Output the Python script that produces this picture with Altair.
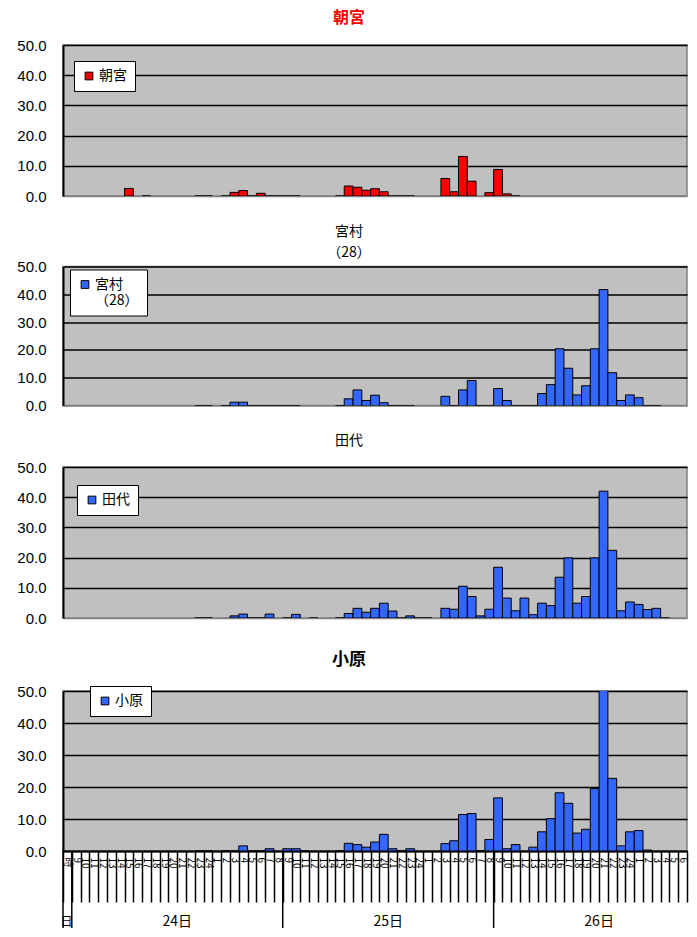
import json
import altair as alt
import pandas as pd

N = None
# hour index h = 0 .. 70  (24日 9時 ... 26日 7時)
hour_names = [str(h) for h in range(9, 25)] + [str(h) for h in range(1, 9)]
x_labels = ["時"] + (hour_names * 3)[:70]
day_labels = ["24日", "25日", "26日"]
day_mid_band = [13, 37, 61]
day_edges = [0, 1, 25, 49]

asamiya = [N, N, N, N, N, N, 2.5, N, 0, N,
           N, N, N, N, 0, 0, N, 0, 1.2, 1.8,
           0, 0.9, 0, 0, 0, 0, N, N, N, N,
           0, 3.3, 2.9, 1.9, 2.4, 1.4, 0, 0, 0, N,
           N, N, 5.8, 1.4, 13.1, 4.9, N, 1.1, 8.8, 0.7,
           0, N, N, N, N, N, N, N, N, N,
           N, N, N, N, N, N, N, N, N, N,
           N]
miyamura = [N, N, N, N, N, N, N, N, N, N,
            N, N, N, N, 0, 0, N, 0, 1.2, 1.2,
            0, 0, 0, 0, 0, 0, N, N, N, N,
            0, 2.4, 5.6, 1.8, 3.7, 1.0, 0, 0, 0, N,
            N, N, 3.3, 0, 5.6, 9.0, 0, 0, 6.1, 1.8,
            0, 0, 0, 4.3, 7.5, 20.4, 13.4, 3.8, 7.1, 20.4,
            41.7, 11.8, 1.8, 3.8, 2.8, 0, 0, N, N, N,
            N]
tashiro = [N, N, N, N, N, N, N, N, N, N,
           N, N, N, N, 0, 0, N, N, 0.7, 1.3,
           0, 0, 1.3, N, 0, 1.2, N, 0, N, N,
           0, 1.5, 3.2, 1.9, 3.2, 4.9, 2.3, 0, 0.7, 0,
           0, N, 3.2, 2.9, 10.5, 7.1, 0.7, 2.9, 16.8, 6.6,
           2.4, 6.6, 1.1, 4.9, 4.1, 13.5, 19.9, 4.9, 7.1, 19.9,
           42.0, 22.4, 2.4, 5.3, 4.5, 2.8, 3.2, 0, N, N,
           N]
ohara = [N, N, N, N, N, N, N, N, N, N,
         N, N, N, N, 0, 0, N, 0, 0, 1.6,
         0, 0, 0.7, N, 0.7, 0.7, 0, N, N, N,
         0, 2.4, 2.0, 1.2, 2.8, 5.2, 0.7, 0, 0.7, N,
         N, N, 2.3, 3.2, 11.4, 11.7, 0, 3.6, 16.6, 0.7,
         2.0, N, 1.2, 6.0, 10.1, 18.2, 14.9, 5.6, 6.8, 19.5,
         52.0, 22.7, 1.6, 6.0, 6.4, 0.3, N, N, N, N,
         N]

NUM_FONT = "Liberation Sans"
CJK = "Noto Sans CJK JP"
NB = 71          # bands shown: header + 70 hours (the reference is cut at the right)
W = 624
XDOM = list(range(NB))


def xscale():
    return alt.Scale(domain=XDOM, paddingInner=0, paddingOuter=0)


def panel(name, vals, color, height, title, lx, ly, bottom=False, label_expr=None):
    df = pd.DataFrame({"i": list(range(1, 72)), "v": vals}).dropna()
    df = df[df["i"] < NB]
    df["s"] = name
    if bottom:
        xaxis = alt.Axis(title=None, tickBand="extent", tickSize=51, tickWidth=1.5,
                         tickColor="black", domainColor="black", domainWidth=2,
                         labelAngle=90, labelAlign="left", labelBaseline="middle",
                         labelFontSize=10, labelPadding=-45, labelFont=CJK,
                         labelColor="black", labelOverlap=False, grid=False,
                         labelExpr=json.dumps(x_labels, ensure_ascii=False) + "[datum.value]")
    else:
        xaxis = None
    leg = dict(title=None, orient="none", legendX=lx, legendY=ly, fillColor="white",
               strokeColor="black", padding=8, symbolType="square", symbolSize=60,
               symbolStrokeColor="black", symbolStrokeWidth=1, labelFontSize=14,
               labelFont=CJK, labelColor="black", labelOffset=3)
    if label_expr:
        leg["labelExpr"] = label_expr
    grid_color = {"condition": {"test": "datum.value === 0",
                                "value": "#808080" if not bottom else "black"},
                  "value": "black"}
    bars = alt.Chart(df).mark_bar(stroke="black", strokeWidth=1, clip=True).encode(
        x=alt.X("i:O", scale=xscale(), axis=xaxis),
        y=alt.Y("v:Q", scale=alt.Scale(domain=[0, 50]),
                axis=alt.Axis(values=[0, 10, 20, 30, 40, 50], format=".1f", title=None,
                              ticks=False, labelPadding=17, labelFontSize=15,
                              labelFont=NUM_FONT, labelColor="black", domainColor="black",
                              domainWidth=2, gridColor=grid_color, gridWidth=1.5)),
        color=alt.Color("s:N", scale=alt.Scale(domain=[name], range=[color]),
                        legend=alt.Legend(**leg)),
    )
    layers = [bars]
    if bottom:
        edges = pd.DataFrame({"i": day_edges})
        rules = alt.Chart(edges).mark_rule(color="black", strokeWidth=1.5).encode(
            x=alt.X("i:O", scale=xscale(), bandPosition=0),
            y=alt.value(height), y2=alt.value(237))
        days = pd.DataFrame({"i": day_mid_band, "t": day_labels})
        dtext = alt.Chart(days).mark_text(font=CJK, fontSize=14, color="black",
                                          baseline="middle").encode(
            x=alt.X("i:O", scale=xscale(), bandPosition=0),
            y=alt.value(231), text="t:N")
        head = pd.DataFrame({"i": [0], "t": ["日"]})
        htext = alt.Chart(head).mark_text(font=CJK, fontSize=12, color="black",
                                          baseline="middle", dx=-1).encode(
            x=alt.X("i:O", scale=xscale()),
            y=alt.value(231), text="t:N")
        layers += [rules, dtext, htext]
    return alt.layer(*layers).properties(width=W, height=height, title=title)


t1 = alt.TitleParams(text="朝宮", color="red", fontSize=16, fontWeight="bold", font=CJK,
                     anchor="middle", frame="group", dx=-26, offset=12)
t2 = alt.TitleParams(text=["宮村", "（28）"], color="black", fontSize=14, fontWeight="normal",
                     font=CJK, anchor="middle", frame="group", dx=-26, offset=0, lineHeight=21)
t3 = alt.TitleParams(text="田代", color="black", fontSize=14, fontWeight="normal", font=CJK,
                     anchor="middle", frame="group", dx=-26, offset=12)
t4 = alt.TitleParams(text="小原", color="black", fontSize=17, fontWeight="bold", font=CJK,
                     anchor="middle", frame="group", dx=-26, offset=15)

c1 = panel("朝宮", asamiya, "#FF0000", 151, t1, 11, 16)
c2 = panel("宮村", miyamura, "#3366FF", 139, t2, 7, 3, label_expr="['宮村', '（28）']")
c3 = panel("田代", tashiro, "#3366FF", 151, t3, 14, 18)
c4 = panel("小原", ohara, "#3366FF", 160, t4, 27, -5, bottom=True)

top = alt.vconcat(c1, c2, c3, spacing=18.5).resolve_scale(color="independent").resolve_legend(color="independent")
chart = alt.vconcat(top, c4, spacing=23).resolve_scale(
    color="independent").resolve_legend(color="independent").properties(
    padding={"left": 8, "top": 1, "right": 0, "bottom": 0}
).configure_view(fill="#C0C0C0", stroke="#808080", strokeWidth=1.5)

chart.save("out.html", embed_options={"renderer": "svg", "actions": False})
